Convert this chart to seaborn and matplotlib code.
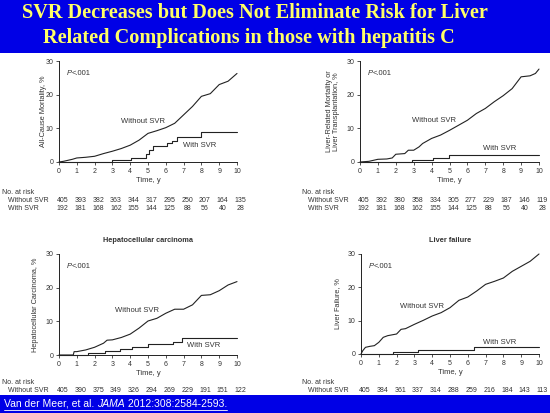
import numpy as np
import matplotlib
matplotlib.use("Agg")
import matplotlib.pyplot as plt
import matplotlib.transforms as mtrans
from matplotlib.patches import Rectangle
import seaborn as sns

# ======== Data ========

years = list(range(0, 11))

# -- All-cause mortality --
acm_without_t = [0, 0.25, 0.5, 0.75, 1, 1.5, 2, 2.5, 3, 3.5, 4, 4.5, 5, 5.5, 6, 6.5, 7, 7.5, 8, 8.5, 9, 9.5, 10]
acm_without_v = [0, 0.2, 0.5, 0.8, 1.2, 1.4, 1.7, 2.5, 3.2, 4.0, 5.0, 6.5, 8.5, 9.3, 10.2, 11.5, 14.0, 16.5, 19.5, 20.3, 23.0, 24.0, 26.3]
acm_with_t = [0, 2.95, 4.05, 4.9, 5.05, 5.3, 6.05, 6.35, 6.65, 8.0, 10]
acm_with_v = [0, 0.6, 1.3, 2.5, 3.7, 4.7, 5.5, 6.3, 7.3, 8.9, 8.9]
acm_risk_without = [405, 393, 382, 363, 344, 317, 295, 250, 207, 164, 135]
acm_risk_with = [192, 181, 168, 162, 155, 144, 125, 88, 56, 40, 28]

# -- Liver-related mortality or transplantation --
lrm_without_t = [0, 0.5, 1, 1.5, 1.8, 2.0, 2.5, 2.7, 3, 3.3, 3.5, 4, 4.5, 5, 5.5, 6, 6.5, 7, 7.5, 8, 8.5, 9, 9.5, 9.8, 10]
lrm_without_v = [0, 0.2, 0.8, 0.9, 1.2, 2.3, 2.5, 3.5, 3.5, 4.5, 5.5, 7.0, 8.0, 9.4, 10.9, 12.4, 14.4, 15.9, 17.9, 19.7, 21.8, 25.3, 25.6, 26.3, 27.6]
lrm_with_t = [0, 2.9, 4.1, 4.95, 10]
lrm_with_v = [0, 0.6, 1.3, 2.0, 2.0]
lrm_risk_without = [405, 392, 380, 358, 334, 305, 277, 229, 187, 146, 119]
lrm_risk_with = [192, 181, 168, 162, 155, 144, 125, 88, 56, 40, 28]

# -- Hepatocellular carcinoma --
hcc_without_t = [0, 0.8, 0.85, 1, 1.5, 2, 2.5, 2.7, 3, 3.5, 4, 4.5, 5, 5.5, 6, 6.5, 7, 7.5, 8, 8.5, 9, 9.5, 10]
hcc_without_v = [0, 0, 1.0, 1.0, 1.5, 2.3, 3.5, 4.4, 4.5, 5.2, 6.2, 8.0, 10.1, 10.9, 12.4, 13.6, 13.6, 14.9, 17.7, 17.9, 19.1, 20.8, 21.8]
hcc_with_t = [0, 1.65, 2.6, 3.4, 4.1, 5.0, 6.4, 6.9, 10]
hcc_with_v = [0, 0.5, 1.2, 1.8, 2.5, 3.3, 3.8, 5.1, 5.1]
hcc_risk_without = [405, 390, 375, 349, 326, 294, 269, 229, 191, 151, 122]

# -- Liver failure --
lf_without_t = [0, 0.1, 0.25, 0.5, 0.75, 1, 1.25, 1.5, 2, 2.25, 2.5, 3, 3.5, 4, 4.5, 5, 5.5, 6, 6.5, 7, 7.5, 8, 8.5, 9, 9.5, 10]
lf_without_v = [0, 1.0, 2.0, 2.3, 2.5, 3.5, 5.0, 5.5, 6.0, 7.4, 7.6, 8.9, 10.1, 11.4, 12.4, 13.9, 16.1, 17.1, 18.9, 20.9, 21.8, 22.8, 24.8, 26.3, 27.8, 30.0]
lf_with_t = [0, 1.8, 3.2, 6.35, 10]
lf_with_v = [0, 0.7, 1.2, 2.1, 2.1]
lf_risk_without = [405, 384, 361, 337, 314, 288, 259, 216, 184, 143, 113]

# ======== Style ========

sns.set_theme(style="ticks")
plt.rcParams["font.family"] = ["Liberation Sans", "DejaVu Sans"]

W, H = 550, 413
ink = "#333333"
line_col = "#222222"
blue = "#0000E6"

fig = plt.figure(figsize=(W / 100, H / 100), dpi=100)
fig.patch.set_facecolor("white")


def fx(px):
    return px / W


def fy(py):
    return 1 - py / H


def make_axes(x0, x1, y_top, y_bot):
    return fig.add_axes([fx(x0), fy(y_bot), fx(x1 - x0), (y_bot - y_top) / H])


panels = [
    dict(box=(59, 237, 61, 162), wt=acm_without_t, wv=acm_without_v, st=acm_with_t, sv=acm_with_v,
         ylabel="All-Cause Mortality, %", ylab_x=-0.07, title=None, shade=(2.9, 4.05),
         wo_lab=(4.7, 11.9), w_lab=(7.9, 5.0),
         risk=[acm_risk_without, acm_risk_with], risk_y=[192, 201, 209], risk_x=2, label_x=8),
    dict(box=(360, 539, 61, 162), wt=lrm_without_t, wv=lrm_without_v, st=lrm_with_t, sv=lrm_with_v,
         ylabel="Liver-Related Mortality or\nLiver Transplantation, %", ylab_x=-0.11, title=None, shade=(2.85, 4.1),
         wo_lab=(4.15, 12.2), w_lab=(7.8, 3.9),
         risk=[lrm_risk_without, lrm_risk_with], risk_y=[192, 201, 209], risk_x=302, label_x=308),
    dict(box=(59, 237, 254, 355), wt=hcc_without_t, wv=hcc_without_v, st=hcc_with_t, sv=hcc_with_v,
         ylabel="Hepatocellular Carcinoma, %", ylab_x=-0.11, title="Hepatocellular carcinoma", shade=None,
         wo_lab=(4.4, 13.1), w_lab=(8.1, 2.7),
         risk=[hcc_risk_without], risk_y=[383, 390], risk_x=2, label_x=8),
    dict(box=(361, 539, 254, 354), wt=lf_without_t, wv=lf_without_v, st=lf_with_t, sv=lf_with_v,
         ylabel="Liver Failure, %", ylab_x=-0.11, title="Liver failure", shade=None,
         wo_lab=(3.4, 14.4), w_lab=(7.8, 3.3),
         risk=[lf_risk_without], risk_y=[383, 390], risk_x=302, label_x=308),
]

for p in panels:
    x0, x1, yt, yb = p["box"]
    ax = make_axes(x0, x1, yt, yb)
    ax.set_facecolor("white")

    sns.lineplot(x=p["wt"], y=p["wv"], ax=ax, color=line_col, linewidth=0.8,
                 estimator=None, clip_on=False)
    sns.lineplot(x=p["st"], y=p["sv"], ax=ax, color=line_col, linewidth=0.8,
                 estimator=None, drawstyle="steps-post", clip_on=False)
    if p["shade"] is not None:
        st = np.array(p["st"])
        ax.fill_between(st, 0, p["sv"], step="post", color="#bdbdbd", lw=0,
                        where=(st >= p["shade"][0]) & (st < p["shade"][1]))

    ax.set_xlim(0, 10)
    ax.set_ylim(0, 30)
    ax.set_xticks(years)
    ax.set_yticks([0, 10, 20, 30])
    ax.tick_params(axis="both", labelsize=5, length=2.5, width=0.6, pad=1.5,
                   colors=ink, labelcolor=ink)
    sns.despine(ax=ax)
    for s in ("left", "bottom"):
        ax.spines[s].set_linewidth(0.7)
        ax.spines[s].set_color(line_col)

    ax.set_xlabel("Time, y", fontsize=5.5, color=ink, labelpad=2)
    ax.set_ylabel(p["ylabel"], fontsize=5.3, color=ink, linespacing=1.0)
    ax.yaxis.set_label_coords(p["ylab_x"], 0.5)
    if p["title"]:
        ax.set_title(p["title"], fontsize=5.3, fontweight="bold", color=ink, pad=9)

    ax.text(0.42, 26.3, "P", style="italic", fontsize=5.5, color=ink, va="center")
    ax.text(0.72, 26.3, "<.001", fontsize=5.5, color=ink, va="center")
    ax.text(*p["wo_lab"], "Without SVR", fontsize=5.5, color=ink, ha="center", va="center")
    ax.text(*p["w_lab"], "With SVR", fontsize=5.5, color=ink, ha="center", va="center")

    # number at risk table
    tr = mtrans.blended_transform_factory(ax.transData, fig.transFigure)
    fig.text(fx(p["risk_x"]), fy(p["risk_y"][0]), "No. at risk", fontsize=5, color=ink, va="center")
    row_names = ["Without SVR", "With SVR"]
    for i, row in enumerate(p["risk"]):
        fig.text(fx(p["label_x"]), fy(p["risk_y"][i + 1]), row_names[i], fontsize=5, color=ink, va="center")
        for yr, n in zip(years, row):
            ax.text(yr + 0.2, fy(p["risk_y"][i + 1]), str(n), transform=tr, fontsize=5,
                    color=ink, ha="center", va="center")

# ======== Banners ========

fig.patches.append(Rectangle((0, fy(53)), 1, 53 / H, transform=fig.transFigure,
                             facecolor=blue, edgecolor="none", zorder=0))
fig.patches.append(Rectangle((0, 0), 1, 18 / H, transform=fig.transFigure,
                             facecolor=blue, edgecolor="none", zorder=5))

title_font = dict(family=["Liberation Serif", "DejaVu Serif"], fontweight="bold",
                  fontsize=14.6, color="#FFFF66", va="center")
fig.text(fx(22), fy(13), "SVR Decreases but Does Not Eliminate Risk for Liver", **title_font)
fig.text(fx(43), fy(38), "Related Complications in those with hepatitis C", **title_font)

cite = fig.text(fx(4), fy(404), "Van der Meer, et al. ", fontsize=7.5, color="white", va="center", zorder=6)
fig.canvas.draw()
bb = cite.get_window_extent()
cite2 = fig.text(bb.x1 / W, fy(404), "JAMA", fontsize=7.5, color="white", style="italic", va="center", zorder=6)
bb2 = cite2.get_window_extent()
cite3 = fig.text(bb2.x1 / W, fy(404), " 2012:308:2584-2593.", fontsize=7.5, color="white", va="center", zorder=6)
bb3 = cite3.get_window_extent()
fig.lines.append(plt.Line2D([fx(4), bb3.x1 / W], [fy(410), fy(410)], transform=fig.transFigure,
                            color="white", lw=0.6, zorder=6))

fig.savefig("out.png", dpi=100)
